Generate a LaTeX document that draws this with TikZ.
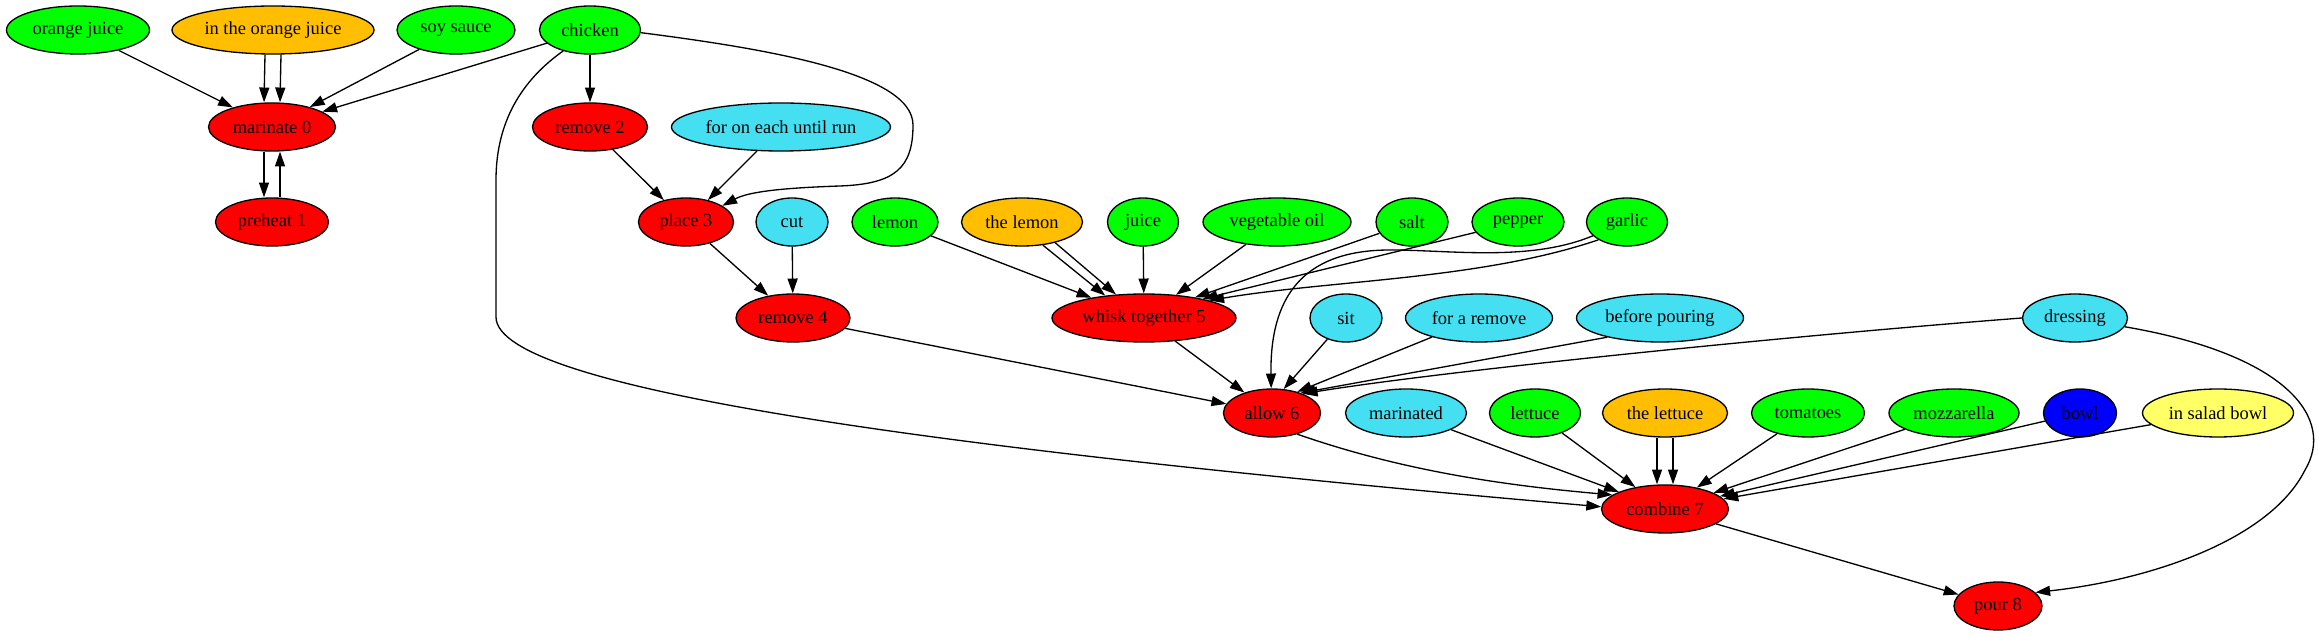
\documentclass[tikz,border=0pt]{standalone}
\usepackage{fontspec}
\setmainfont{Liberation Serif}
\usetikzlibrary{shapes.geometric,arrows.meta}
\definecolor{cgreen}{HTML}{00FF00}
\definecolor{camber}{HTML}{FFBF00}
\definecolor{ccyan}{HTML}{44E0F2}
\definecolor{cred}{HTML}{FF0000}
\definecolor{cblue}{HTML}{0000FF}
\definecolor{cyellow}{HTML}{FFFF66}
\tikzset{
  base/.style={ellipse, draw=black, line width=0.66pt, inner sep=0pt,
    minimum height=24pt, font=\fontsize{9.24}{11}\selectfont},
  wd/.style={minimum width=#1*0.5pt},
  gr/.style={base, fill=cgreen},
  am/.style={base, fill=camber},
  cy/.style={base, fill=ccyan},
  rd/.style={base, fill=cred},
  bl/.style={base, fill=cblue},
  ye/.style={base, fill=cyellow},
  conn/.style={-{Triangle[length=7.4pt,width=5pt]}, line width=0.66pt}
}
\begin{document}
\begin{tikzpicture}[x=0.5pt,y=-0.5pt]
\useasboundingbox (0,0) rectangle (2319,635);
% row 1
\node[gr, wd=143] (oj) at (78,30) {orange juice};
\node[am, wd=202] (itoj) at (273,30) {in the orange juice};
\node[gr, wd=118] (soy) at (456,30) {soy sauce};
\node[gr, wd=101] (chicken) at (590,30) {chicken};
% row 2
\node[rd, wd=127] (mar0) at (272,127) {marinate 0};
\node[rd, wd=115] (rem2) at (590,127) {remove 2};
\node[cy, wd=219] (foreach) at (781,127) {for on each until run};
% row 3
\node[rd, wd=113] (pre1) at (272,222) {preheat 1};
\node[rd, wd=95] (place3) at (686,222) {place 3};
\node[cy, wd=72] (cut) at (792,222) {cut};
\node[gr, wd=86] (lemon) at (895,222) {lemon};
\node[am, wd=121] (thelemon) at (1022,222) {the lemon};
\node[gr, wd=71] (juice) at (1143,222) {juice};
\node[gr, wd=148] (vegoil) at (1277,222) {vegetable oil};
\node[gr, wd=72] (salt) at (1412,222) {salt};
\node[gr, wd=92] (pepper) at (1518,222) {pepper};
\node[gr, wd=81] (garlic) at (1627,222) {garlic};
% row 4
\node[rd, wd=114] (rem4) at (793,318) {remove 4};
\node[rd, wd=184] (whisk5) at (1144,318) {whisk together 5};
\node[cy, wd=72] (sit) at (1346,318) {sit};
\node[cy, wd=147] (forarem) at (1479,318) {for a remove};
\node[cy, wd=167] (beforepour) at (1660,318) {before pouring};
\node[cy, wd=105] (dressing) at (2075,318) {dressing};
% row 5
\node[rd, wd=97] (allow6) at (1272,413) {allow 6};
\node[cy, wd=121] (marinated) at (1406,413) {marinated};
\node[gr, wd=91] (lettuce) at (1535,413) {lettuce};
\node[am, wd=125] (thelettuce) at (1665,413) {the lettuce};
\node[gr, wd=113] (tomatoes) at (1808,413) {tomatoes};
\node[gr, wd=130] (mozz) at (1954,413) {mozzarella};
\node[bl, wd=73] (bowl) at (2080,413) {bowl};
\node[ye, wd=151] (insalad) at (2218,413) {in salad bowl};
% rows 6,7
\node[rd, wd=127] (comb7) at (1665,509) {combine 7};
\node[rd, wd=88] (pour8) at (1998,606) {pour 8};

% edges into marinate 0
\draw[conn] (oj) -- (mar0);
\draw[conn] ([xshift=-4pt]itoj.south) -- ([xshift=-4pt]mar0.north);
\draw[conn] ([xshift=4pt]itoj.south) -- ([xshift=4pt]mar0.north);
\draw[conn] (soy) -- (mar0);
\draw[conn] (chicken) -- (mar0);
\draw[conn] ([xshift=-4pt]mar0.south) -- ([xshift=-4pt]pre1.north);
\draw[conn] ([xshift=4pt]pre1.north) -- ([xshift=4pt]mar0.south);
% chicken
\draw[conn] (chicken) -- (rem2);
\draw[conn] (chicken.-3) .. controls (760,48) and (913,72) .. (913,125)
  .. controls (913,168) and (895,184) .. (840,186)
  .. controls (780,188) and (748,192) .. (place3.24);
\draw[conn] (chicken.218) .. controls (515,85) and (496,130) .. (496,180)
  -- (496,317) .. controls (496,390) and (950,450) .. (comb7.178);
% place / remove
\draw[conn] (rem2) -- (place3);
\draw[conn] (foreach) -- (place3);
\draw[conn] (place3) -- (rem4);
\draw[conn] (cut) -- (rem4);
% whisk together
\draw[conn] (lemon) -- (whisk5);
\draw[conn] (thelemon.-48) -- (whisk5.150);
\draw[conn] (thelemon.-32) -- (whisk5.140);
\draw[conn] (juice) -- (whisk5);
\draw[conn] (vegoil) -- (whisk5);
\draw[conn] (salt) -- (whisk5.22);
\draw[conn] (pepper) -- (whisk5.18);
\draw[conn] (garlic.212) .. controls (1480,280) and (1330,280) .. (whisk5.15);
\draw[conn] (garlic.202) .. controls (1530,262) and (1450,250) .. (1390,250)
  .. controls (1300,250) and (1270,300) .. (allow6.92);
% allow 6
\draw[conn] (rem4) -- (allow6);
\draw[conn] (whisk5) -- (allow6);
\draw[conn] (sit) -- (allow6.64);
\draw[conn] (forarem) -- (allow6.40);
\draw[conn] (beforepour.200) -- (allow6.35);
\draw[conn] (dressing.west) .. controls (1800,335) and (1450,370) .. (allow6.32);
\draw[conn] (dressing.-10) .. controls (2290,355) and (2335,420) .. (2305,470)
  .. controls (2270,540) and (2150,580) .. (pour8.20);
% combine 7
\draw[conn] (allow6.-40) .. controls (1400,470) and (1500,485) .. (comb7.165);
\draw[conn] (marinated) -- (comb7);
\draw[conn] (lettuce) -- (comb7);
\draw[conn] ([xshift=-4pt]thelettuce.south) -- ([xshift=-4pt]comb7.north);
\draw[conn] ([xshift=4pt]thelettuce.south) -- ([xshift=4pt]comb7.north);
\draw[conn] (tomatoes) -- (comb7);
\draw[conn] (mozz) -- (comb7);
\draw[conn] (bowl) -- (comb7);
\draw[conn] (insalad) -- (comb7);
\draw[conn] (comb7) -- (pour8);
\end{tikzpicture}
\end{document}
